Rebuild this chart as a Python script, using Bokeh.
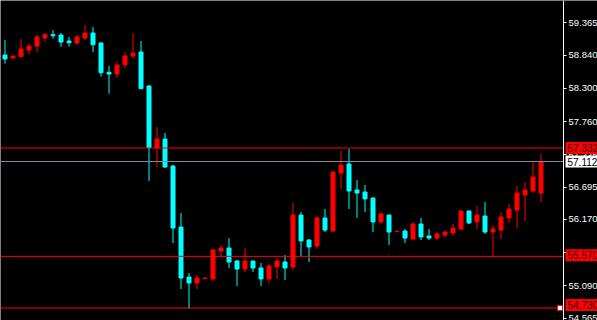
from bokeh.plotting import figure
from bokeh.models import (Range1d, FixedTicker, Label, ColumnDataSource,
                          PrintfTickFormatter, LinearAxis)
from bokeh.embed import file_html
from bokeh.resources import INLINE

# ---- data ----
opens = [58.844, 58.795, 58.816, 58.925, 58.990, 59.120, 59.174, 59.169, 59.072, 59.039,
         59.120, 59.202, 59.039, 58.563, 58.535, 58.686, 58.828, 58.893, 58.340, 57.332,
         57.478, 57.039, 56.047, 55.234, 55.137, 55.212, 55.202, 55.657, 55.706, 55.494,
         55.364, 55.494, 55.381, 55.202, 55.397, 55.478, 55.397, 56.242, 55.836, 55.738,
         56.194, 55.982, 56.925, 57.072, 56.649, 56.616, 56.519, 56.129, 56.242, 55.972,
         55.982, 55.852, 56.096, 55.901, 55.868, 55.917, 55.950, 56.015, 56.307, 56.129,
         56.226, 55.966, 55.998, 56.194, 56.324, 56.568, 56.633, 56.600]
highs = [59.088, 58.830, 59.104, 59.023, 59.169, 59.202, 59.250, 59.202, 59.137, 59.169,
         59.332, 59.299, 59.055, 58.665, 58.746, 58.893, 59.202, 59.072, 58.356, 57.673,
         57.576, 57.055, 56.275, 55.299, 55.267, 55.218, 55.690, 55.755, 55.868, 55.511,
         55.706, 55.500, 55.462, 55.446, 55.543, 55.592, 56.437, 56.291, 55.852, 56.226,
         56.340, 56.950, 57.283, 57.316, 56.811, 56.730, 56.525, 56.291, 56.250, 55.977,
         56.015, 56.129, 56.194, 56.015, 55.966, 55.982, 56.096, 56.310, 56.315, 56.389,
         56.454, 56.080, 56.291, 56.421, 56.714, 56.779, 57.104, 57.234]
lows = [58.702, 58.779, 58.810, 58.855, 58.893, 59.060, 59.109, 58.979, 58.979, 59.011,
        59.088, 58.893, 58.491, 58.215, 58.470, 58.633, 58.784, 58.290, 56.795, 57.023,
        57.007, 55.787, 55.039, 54.714, 55.039, 55.212, 55.169, 55.576, 55.381, 55.088,
        55.316, 55.316, 55.088, 55.137, 55.202, 55.185, 55.348, 55.576, 55.478, 55.690,
        55.966, 55.966, 56.665, 56.340, 56.194, 56.291, 55.966, 56.096, 55.755, 55.972,
        55.787, 55.845, 55.836, 55.836, 55.836, 55.885, 55.901, 55.998, 56.096, 56.015,
        55.933, 55.559, 55.852, 56.112, 56.031, 56.145, 56.600, 56.454]
closes = [58.779, 58.828, 58.942, 58.990, 59.137, 59.174, 59.158, 59.055, 59.044, 59.137,
          59.202, 59.011, 58.556, 58.535, 58.681, 58.828, 58.876, 58.296, 57.337, 57.478,
          57.023, 56.031, 55.218, 55.137, 55.218, 55.218, 55.673, 55.706, 55.478, 55.364,
          55.494, 55.381, 55.202, 55.413, 55.494, 55.381, 56.242, 55.820, 55.722, 56.194,
          55.998, 56.942, 57.055, 56.633, 56.600, 56.503, 56.129, 56.259, 55.966, 55.977,
          55.868, 56.096, 55.885, 55.868, 55.933, 55.966, 56.031, 56.307, 56.112, 56.242,
          55.966, 56.015, 56.210, 56.340, 56.600, 56.649, 56.860, 57.112]

tick_values = [59.365, 58.840, 58.300, 57.760, 57.225, 56.695, 56.170, 55.630, 55.090, 54.565]
red_levels = [57.332, 55.570, 54.730]
bid_price = 57.112

# ---- style ----
UP = "#ff0000"
DOWN = "#00ffff"
BID = "#7f8ea3"
FONT = "Liberation Sans"
FS = "9.5px"
LBL_FS = "10px"

n = len(opens)
idx = list(range(n))
colors = [UP if c >= o else DOWN for o, c in zip(opens, closes)]
tops = [max(o, c) for o, c in zip(opens, closes)]
bottoms = [min(o, c) for o, c in zip(opens, closes)]
src = ColumnDataSource(dict(x=idx, o=opens, h=highs, l=lows, c=closes,
                            top=tops, bottom=bottoms, color=colors))

W, H = 597, 320
AXIS_PX = 563
PX_PER_BAR = 8
x_start = -4.5 / PX_PER_BAR
x_end = x_start + W / PX_PER_BAR
x_axis = x_start + AXIS_PX / PX_PER_BAR
PX_PER_UNIT = 61.5
y_top = red_levels[0] + 147.5 / PX_PER_UNIT
y_bot = y_top - H / PX_PER_UNIT

p = figure(frame_width=W, frame_height=H,
           x_range=Range1d(x_start, x_end), y_range=Range1d(y_bot, y_top),
           x_axis_location=None, y_axis_location=None,
           toolbar_location=None, output_backend="svg", min_border=0)
p.background_fill_color = "black"
p.border_fill_color = "black"
p.outline_line_color = None
p.grid.visible = False

ax = LinearAxis(fixed_location=x_axis)
ax.ticker = FixedTicker(ticks=tick_values)
ax.formatter = PrintfTickFormatter(format="%.3f")
ax.axis_line_color = "white"
ax.major_tick_line_color = "white"
ax.minor_tick_line_color = None
ax.major_tick_out = 3
ax.major_tick_in = 0
ax.major_label_standoff = 2
ax.major_label_text_color = "white"
ax.major_label_text_font = FONT
ax.major_label_text_font_size = FS
p.add_layout(ax, "right")

# wicks and bodies
p.segment(x0="x", y0="l", x1="x", y1="h", color="color", line_width=1, source=src)
p.vbar(x="x", width=4 / PX_PER_BAR, top="top", bottom="bottom",
       fill_color="color", line_color="color", line_width=1, source=src)

# horizontal price lines (up to the price scale)
n_lv = len(red_levels)
p.segment(x0=[x_start] * n_lv, x1=[x_axis] * n_lv, y0=red_levels, y1=red_levels,
          line_color="#ff0000", line_width=1)
p.segment(x0=[x_start], x1=[x_axis], y0=[bid_price], y1=[bid_price],
          line_color=BID, line_width=1)

# small marker on the lowest line
p.scatter(x=[x_axis - 0.45], y=[red_levels[2]], marker="square", size=5,
          fill_color="white", line_color="#ff0000", line_width=1)

# price labels on the scale
offsets = [0, 1, 3]
for lv, off in zip(red_levels, offsets):
    p.add_layout(Label(x=x_axis, y=lv, x_offset=2, y_offset=off, text=f"{lv:.3f}",
                       text_font=FONT, text_font_size=LBL_FS, text_color="#300000",
                       text_align="left", text_baseline="middle",
                       background_fill_color="#ff0000", padding=2))
p.add_layout(Label(x=x_axis, y=bid_price, x_offset=2, y_offset=0, text=f"{bid_price:.3f}",
                   text_font=FONT, text_font_size=LBL_FS, text_color="black",
                   text_align="left", text_baseline="middle",
                   background_fill_color="white", padding=2))

open("out.html", "w").write(file_html(p, INLINE))
